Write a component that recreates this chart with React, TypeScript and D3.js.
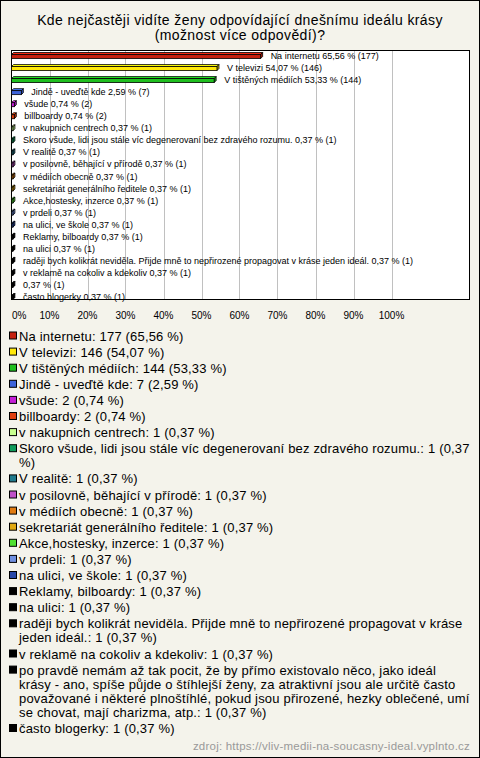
import React from "react";
import * as d3 from "d3";

const titleLines = [
  "Kde nejčastěji vidíte ženy odpovídající dnešnímu ideálu krásy",
  "(možnost více odpovědí)?",
];

const categories = [
  "Na internetu",
  "V televizi",
  "V tištěných médiích",
  "Jindě - uveďtě kde",
  "všude",
  "billboardy",
  "v nakupnich centrech",
  "Skoro všude, lidi jsou stále víc degenerovaní bez zdravého rozumu.",
  "V realitě",
  "v posilovně, běhající v přírodě",
  "v médiích obecně",
  "sekretariát generálního ředitele",
  "Akce,hostesky, inzerce",
  "v prdeli",
  "na ulici, ve škole",
  "Reklamy, bilboardy",
  "na ulici",
  "raději bych kolikrát neviděla. Přijde mně to nepřirozené propagovat v kráse jeden ideál.",
  "v reklamě na cokoliv a kdekoliv",
  "po pravdě nemám až tak pocit, že by přímo existovalo něco, jako ideál krásy - ano, spíše půjde o štíhlejší ženy, za atraktivní jsou ale určitě často považované i některé plnoštíhlé, pokud jsou přirozené, hezky oblečené, umí se chovat, mají charizma, atp.",
  "často blogerky",
];

const counts = [177, 146, 144, 7, 2, 2, 1, 1, 1, 1, 1, 1, 1, 1, 1, 1, 1, 1, 1, 1, 1];
const percents = [
  65.56, 54.07, 53.33, 2.59, 0.74, 0.74, 0.37, 0.37, 0.37, 0.37, 0.37, 0.37,
  0.37, 0.37, 0.37, 0.37, 0.37, 0.37, 0.37, 0.37, 0.37,
];

const colors = [
  "#c4200e", "#ffe80a", "#1fbf1f", "#3d63d9", "#c41fd6", "#e04010",
  "#c8ff90", "#0e9b5a", "#1f7a8c", "#c050c8", "#e07a10", "#e0a810",
  "#50e030", "#7090e0", "#2848a8", "#000000", "#000000", "#000000",
  "#000000", "#000000", "#000000",
];

// where the legend texts wrap in the reference (line starts)
const legendBreaks: Record<number, string[]> = {
  7: ["%)"],
  17: ["jeden ideál"],
  19: ["krásy - ano", "považované i", "se chovat"],
};

const xTicks = [0, 10, 20, 30, 40, 50, 60, 70, 80, 90, 100];
const sourceText = "zdroj: https://vliv-medii-na-soucasny-ideal.vyplnto.cz";

const W = 480;
const H = 758;
const FONT = '"Liberation Sans", Arial, sans-serif';

const fmtPct = (v: number) => d3.format(".2f")(v).replace(".", ",");

function splitAt(text: string, starts: string[] | undefined) {
  if (!starts) return [text];
  const lines: string[] = [];
  let rest = text;
  for (const s of starts) {
    const k = rest.indexOf(s);
    if (k <= 0) continue;
    lines.push(rest.slice(0, k).trimEnd());
    rest = rest.slice(k);
  }
  lines.push(rest);
  return lines;
}

export default function App() {
  const plot = { left: 11, right: 470, top: 50, bottom: 300 };
  const x = d3.scaleLinear().domain([0, 100]).range([11.5, 391.5]);
  const y = d3
    .scalePoint<string>()
    .domain(categories.map((_, i) => String(i)))
    .range([56, 297]);

  const depth = 2;
  const barH = 4;

  const legendFont = 13;
  const legendLS = 0.18;
  const legendItems = categories.map((c, i) => {
    const label = `${c}: ${counts[i]} (${fmtPct(percents[i])} %)`;
    return { lines: splitAt(label, legendBreaks[i]), color: colors[i] };
  });
  let cursor = 340.5;
  const legendPos = legendItems.map((it) => {
    const p = cursor;
    cursor += 16.1 + (it.lines.length - 1) * 14.1;
    return p;
  });

  return (
    <svg
      width={W}
      height={H}
      style={{ position: "absolute", left: 0, top: 0, display: "block" }}
      fontFamily={FONT}
    >
      <rect x={0.5} y={0.5} width={W - 1} height={H - 1} fill="#f4f3eb" stroke="#000" />
      {titleLines.map((t, i) => (
        <text
          key={i}
          x={W / 2}
          y={25 + i * 15}
          textAnchor="middle"
          fontSize={14}
          letterSpacing={0.4}
          fill="#000"
        >
          {t}
        </text>
      ))}
      <rect
        x={plot.left + 0.5}
        y={plot.top + 0.5}
        width={plot.right - plot.left - 1}
        height={plot.bottom - plot.top - 1}
        fill="#fff"
        stroke="#000"
      />
      {xTicks
        .filter((t) => t > 0)
        .map((t) => (
          <line
            key={t}
            x1={Math.round(x(t)) + 0.5}
            x2={Math.round(x(t)) + 0.5}
            y1={plot.top + 1}
            y2={plot.bottom - 1}
            stroke="#c0c0c0"
          />
        ))}
      {categories.map((c, i) => {
        const cy = y(String(i)) as number;
        const x0 = x(0);
        const x1 = x(percents[i]);
        const yt = cy - 1.5;
        const col = d3.color(colors[i])!;
        const top = col.brighter(0.6).formatHex();
        const side = col.darker(0.6).formatHex();
        const label = c.length > 120 ? "" : c;
        const txt = `${label ? label + " " : ""}${fmtPct(percents[i])} % (${counts[i]})`;
        return (
          <g key={i}>
            <polygon
              points={`${x0},${yt} ${x0 + depth},${yt - depth} ${x1 + depth},${yt - depth} ${x1},${yt}`}
              fill={top}
              stroke="#000"
              strokeWidth={0.8}
            />
            <polygon
              points={`${x1},${yt} ${x1 + depth},${yt - depth} ${x1 + depth},${yt - depth + barH} ${x1},${yt + barH}`}
              fill={side}
              stroke="#000"
              strokeWidth={0.8}
            />
            <rect x={x0} y={yt} width={x1 - x0} height={barH} fill={colors[i]} stroke="#000" strokeWidth={0.8} />
            <text x={x1 + depth + 8} y={cy + 3} fontSize={9} fill="#000">
              {txt}
            </text>
          </g>
        );
      })}
      {xTicks.map((t) => (
        <text
          key={t}
          x={t === 0 ? x(t) + 0.5 : x(t)}
          y={319}
          textAnchor={t === 0 ? "start" : "middle"}
          fontSize={10}
          fill="#000"
        >
          {t}%
        </text>
      ))}
      {legendItems.map((it, i) => (
        <g key={i}>
          <rect x={9.5} y={legendPos[i] - 8.5} width={7} height={7} fill={it.color} stroke="#000" />
          {it.lines.map((ln, j) => (
            <text
              key={j}
              x={19}
              y={legendPos[i] + j * 14.1}
              fontSize={legendFont}
              letterSpacing={legendLS}
              fill="#000"
            >
              {ln}
            </text>
          ))}
        </g>
      ))}
      <text x={470} y={750} textAnchor="end" fontSize={11.5} letterSpacing={0.22} fill="#999">
        {sourceText}
      </text>
    </svg>
  );
}
